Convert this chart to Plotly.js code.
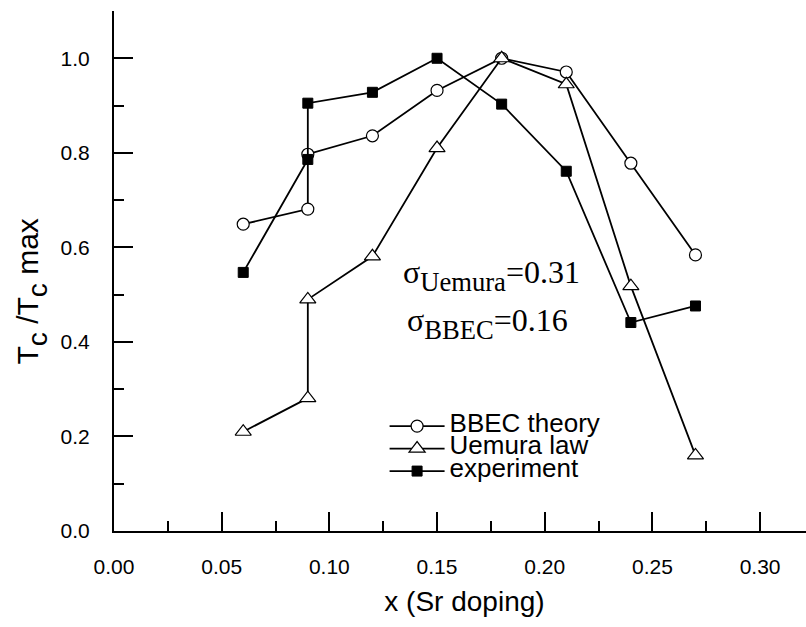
<!DOCTYPE html>
<html><head><meta charset="utf-8">
<script src="https://cdn.plot.ly/plotly-3.0.1.min.js"></script>
<style>html,body{margin:0;padding:0;overflow:hidden;background:#fff}</style>
</head><body><div id="chart" style="width:816px;height:627px"></div>
<script>
// Data
const dopingBBEC = [0.06, 0.09, 0.09, 0.12, 0.15, 0.18, 0.21, 0.24, 0.27];
const tcBBEC     = [0.649, 0.681, 0.797, 0.836, 0.932, 1.000, 0.971, 0.778, 0.584];
const dopingUemura = [0.06, 0.09, 0.09, 0.12, 0.15, 0.18, 0.21, 0.24, 0.27];
const tcUemura     = [0.210, 0.281, 0.490, 0.581, 0.810, 1.000, 0.945, 0.518, 0.160];
const dopingExp = [0.06, 0.09, 0.09, 0.12, 0.15, 0.18, 0.21, 0.24, 0.27];
const tcExp     = [0.547, 0.786, 0.905, 0.928, 1.000, 0.903, 0.761, 0.441, 0.476];
const seriesNames = ['BBEC theory', 'Uemura law', 'experiment'];
const xTickVals = [0, 0.05, 0.10, 0.15, 0.20, 0.25, 0.30];
const xTickLabels = ['0.00', '0.05', '0.10', '0.15', '0.20', '0.25', '0.30'];
const yTickVals = [0, 0.2, 0.4, 0.6, 0.8, 1.0];
const yTickLabels = ['0.0', '0.2', '0.4', '0.6', '0.8', '1.0'];
const xTitle = 'x (Sr doping)';
const yTitle = 'T<span style="font-size:40px"><sub>c</sub></span> /T<span style="font-size:40px"><sub>c</sub></span> max';
const sigmaTexts = ['σ<span style="font-size:38px"><sub>Uemura</sub></span>=0.31',
                    'σ<span style="font-size:38px"><sub>BBEC</sub></span>=0.16'];

const X_RANGE = [0, 0.3255];
const Y_RANGE = [0, 1.1];
const legendName = s => '<span style="font-size:26px">' + s + '</span>';

const lineStyle = {color: '#000', width: 1.8};
const traces = [
  {x: dopingBBEC, y: tcBBEC, name: legendName(seriesNames[0]), type: 'scatter', mode: 'lines+markers',
   line: lineStyle, marker: {symbol: 'circle', size: 12, color: '#fff', line: {color: '#000', width: 1.2}}},
  {x: dopingUemura, y: tcUemura, name: legendName(seriesNames[1]), type: 'scatter', mode: 'lines+markers',
   line: lineStyle, marker: {symbol: 'triangle-up', size: 14, color: '#fff', line: {color: '#000', width: 1.2}}},
  {x: dopingExp, y: tcExp, name: legendName(seriesNames[2]), type: 'scatter', mode: 'lines+markers',
   line: lineStyle, marker: {symbol: 'square', size: 10, color: '#000', line: {color: '#000', width: 1}}}
];

const sans = 'Liberation Sans, Arial, sans-serif';
const serif = 'Liberation Serif, Times New Roman, serif';
const axisFont = {family: sans, size: 21, color: '#000'};
const layout = {
  width: 816, height: 627,
  margin: {l: 114, r: 1, t: 11, b: 96, pad: 0},
  paper_bgcolor: '#fff', plot_bgcolor: '#fff',
  showlegend: true,
  font: {family: sans, color: '#000'},
  xaxis: {
    range: X_RANGE, tickmode: 'array', tickvals: xTickVals, ticktext: xTickLabels,
    ticks: 'inside', ticklen: 19, tickwidth: 2, tickcolor: '#000',
    minor: {tickmode: 'linear', tick0: 0, dtick: 0.025, ticks: 'inside', ticklen: 10, tickwidth: 2, tickcolor: '#000'},
    showline: true, linewidth: 2, linecolor: '#000', showgrid: false, zeroline: false,
    tickfont: axisFont, ticklabelstandoff: 16,
    title: {text: xTitle, font: {family: sans, size: 28, color: '#000'}, standoff: 14}
  },
  yaxis: {
    range: Y_RANGE, tickmode: 'array', tickvals: yTickVals, ticktext: yTickLabels,
    ticks: 'inside', ticklen: 19, tickwidth: 2, tickcolor: '#000',
    minor: {tickmode: 'linear', tick0: 0, dtick: 0.1, ticks: 'inside', ticklen: 10, tickwidth: 2, tickcolor: '#000'},
    showline: true, linewidth: 2, linecolor: '#000', showgrid: false, zeroline: false,
    tickfont: axisFont, ticklabelstandoff: 18
  },
  xaxis2: {
    overlaying: 'x', anchor: 'y', side: 'top', range: X_RANGE,
    tickmode: 'linear', tick0: 0, dtick: 0.05, showticklabels: false,
    ticks: 'inside', ticklen: 10, tickwidth: 2, tickcolor: '#000',
    minor: {tickmode: 'linear', tick0: 0, dtick: 0.025, ticks: 'inside', ticklen: 5, tickwidth: 2, tickcolor: '#000'},
    showline: true, linewidth: 2, linecolor: '#000', showgrid: false, zeroline: false
  },
  yaxis2: {
    overlaying: 'y', anchor: 'x', side: 'right', range: Y_RANGE,
    tickmode: 'linear', tick0: 0, dtick: 0.2, showticklabels: false,
    ticks: 'inside', ticklen: 10, tickwidth: 2, tickcolor: '#000',
    minor: {tickmode: 'linear', tick0: 0, dtick: 0.1, ticks: 'inside', ticklen: 5, tickwidth: 2, tickcolor: '#000'},
    showline: true, linewidth: 2, linecolor: '#000', showgrid: false, zeroline: false
  },
  legend: {
    x: 0.386, y: 0.233, xanchor: 'left', yanchor: 'top',
    bgcolor: 'rgba(0,0,0,0)', borderwidth: 0,
    font: {family: sans, size: 15, color: '#000'},
    itemwidth: 55, tracegroupgap: 0
  },
  annotations: [
    {xref: 'paper', yref: 'paper', x: -0.117, y: 0.4606, text: yTitle, textangle: -90, showarrow: false,
     xanchor: 'center', yanchor: 'middle', font: {family: sans, size: 30, color: '#000'}},
    {xref: 'x', yref: 'y', x: 0.1755, y: 0.541, text: sigmaTexts[0], showarrow: false,
     xanchor: 'center', yanchor: 'middle', font: {family: serif, size: 32, color: '#000'}},
    {xref: 'x', yref: 'y', x: 0.1736, y: 0.438, text: sigmaTexts[1], showarrow: false,
     xanchor: 'center', yanchor: 'middle', font: {family: serif, size: 32, color: '#000'}}
  ]
};

Plotly.newPlot('chart', traces, layout, {staticPlot: true, displayModeBar: false});
</script>
</body></html>
